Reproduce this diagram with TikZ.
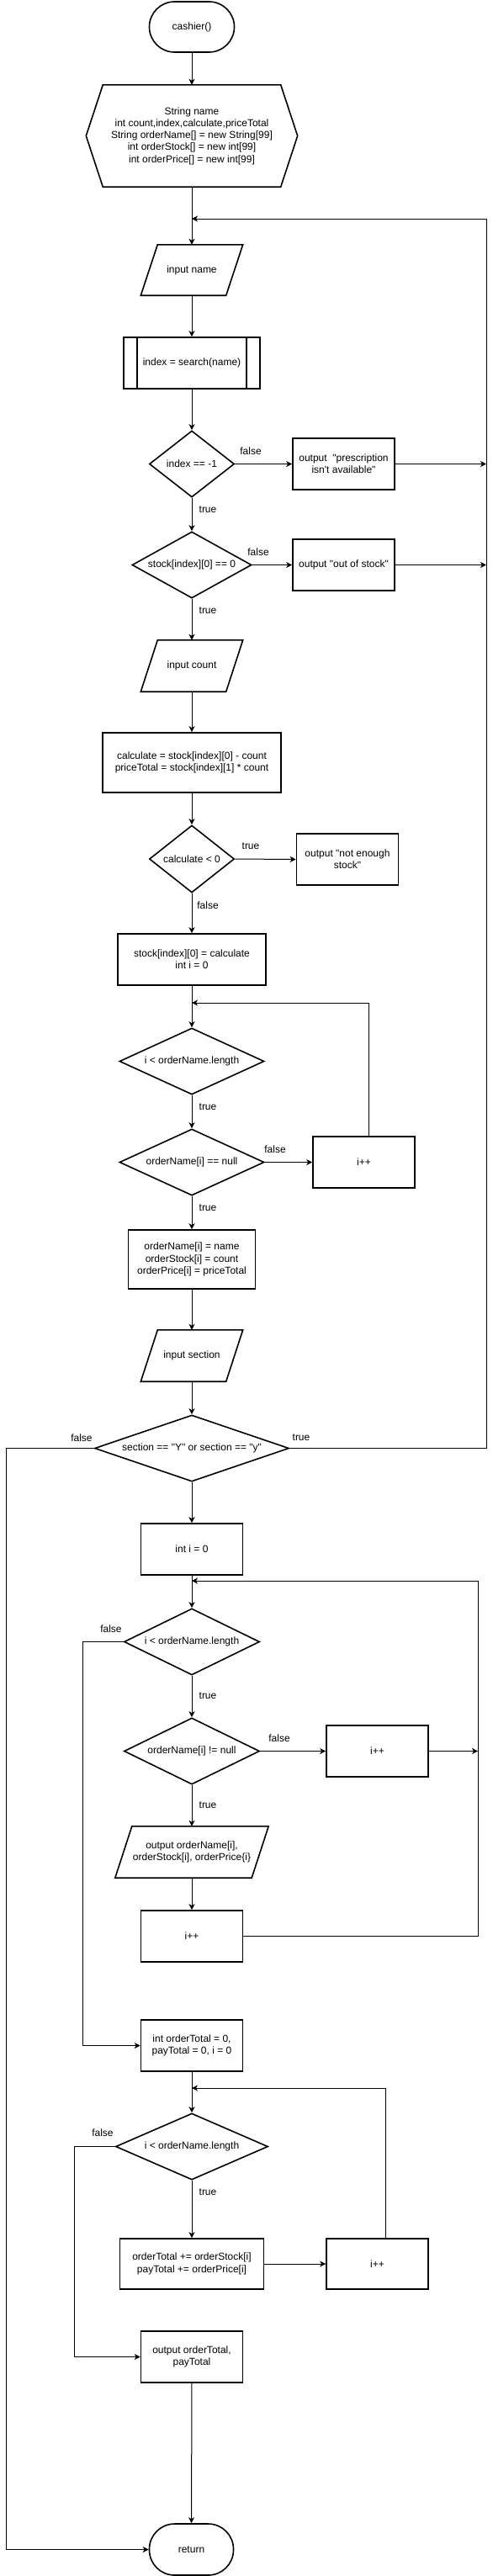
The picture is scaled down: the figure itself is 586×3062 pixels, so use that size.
\documentclass[tikz,border=0pt]{standalone}
\usepackage{fontspec}
\setmainfont{Liberation Sans}[Ligatures=TeXOff]
\usetikzlibrary{shapes.geometric,arrows.meta,calc}
\newcommand\dfont{\fontsize{12pt}{14.3pt}\selectfont}
\begin{document}
\begin{tikzpicture}[x=1pt,y=-1pt,
  shp/.style={draw=black, line width=1.6pt},
  box/.style={shp, rectangle, inner sep=0pt, align=center, font=\dfont},
  ghost/.style={rectangle, inner sep=0pt, align=center, font=\dfont},
  dia/.style={shp, diamond, inner sep=0pt},
  txt/.style={font=\dfont, align=center, inner sep=0pt},
  term/.style={shp, rectangle, rounded corners=30pt, inner sep=0pt, font=\dfont},
  conn/.style={draw=black, line width=1pt, -{Stealth[length=7pt,width=7pt,inset=2pt]}},
  lbl/.style={font=\dfont, inner sep=0pt}]
\useasboundingbox (0,0) rectangle (586,3062);

% ---------- nodes ----------
\node[term, minimum width=101pt, minimum height=60pt] (start) at (228,32) {cashier()};

\node[ghost, minimum width=251pt, minimum height=121pt] (decl) at (228,161.5)
  {String name\\int count,index,calculate,priceTotal\\String orderName[] = new String[99]\\int orderStock[] = new int[99]\\int orderPrice[] = new int[99]};
\draw[shp] ($(decl.north west)+(20,0)$) -- ($(decl.north east)+(-20,0)$) -- (decl.east)
  -- ($(decl.south east)+(-20,0)$) -- ($(decl.south west)+(20,0)$) -- (decl.west) -- cycle;

\coordinate (j1) at (228,260);
\coordinate (rtop) at (578,260);

\node[ghost, minimum width=121pt, minimum height=60pt] (in1) at (228,321) {input name};
\draw[shp] ($(in1.north west)+(20,0)$) -- (in1.north east) -- ($(in1.south east)+(-20,0)$) -- (in1.south west) -- cycle;

\node[box, minimum width=162pt, minimum height=61pt] (srch) at (228,431.5) {index = search(name)};
\draw[shp] ($(srch.north west)+(17,0)$) -- ($(srch.south west)+(17,0)$);
\draw[shp] ($(srch.north east)+(-17,0)$) -- ($(srch.south east)+(-17,0)$);

\node[dia, minimum width=101pt, minimum height=79pt] (d1) at (228,551.5) {};
\node[txt] (d1t) at (d1) {index == -1};
\node[box, minimum width=121pt, minimum height=61pt] (o1) at (408.5,551.5) {output~~"prescription\\isn't available"};
\coordinate (r1) at (578,551.5);

\node[dia, minimum width=142pt, minimum height=79pt] (d2) at (228,671.5) {};
\node[txt] (d2t) at (d2) {stock[index][0] == 0};
\node[box, minimum width=121pt, minimum height=61pt] (o2) at (408.5,671.5) {output "out of stock"};
\coordinate (r2a) at (578,671.5);

\node[ghost, minimum width=121pt, minimum height=61pt] (in2) at (228,791.5) {input count};
\draw[shp] ($(in2.north west)+(20,0)$) -- (in2.north east) -- ($(in2.south east)+(-20,0)$) -- (in2.south west) -- cycle;

\node[box, minimum width=212pt, minimum height=71pt] (calc) at (228,906.5) {calculate = stock[index][0] - count\\priceTotal = stock[index][1] * count};

\node[dia, minimum width=101pt, minimum height=80pt] (d3) at (228,1021) {};
\node[txt] (d3t) at (d3) {calculate < 0};
\node[box, minimum width=121pt, minimum height=61pt] (o3) at (413,1021.5) {output "not enough\\stock"};

\node[box, minimum width=176pt, minimum height=61pt] (stk) at (228,1140.5) {stock[index][0] = calculate\\int i = 0};
\coordinate (j2) at (228,1192);

\node[dia, minimum width=172pt, minimum height=79pt] (d4) at (228,1261.5) {};
\node[txt] (d4t) at (d4) {i < orderName.length};

\node[dia, minimum width=172pt, minimum height=79pt] (d5) at (228,1381.5) {};
\node[txt] (d5t) at (d5) {orderName[i] == null};
\node[box, minimum width=121pt, minimum height=61pt] (inc1) at (432.5,1381.5) {i++};

\node[box, minimum width=151pt, minimum height=70pt] (ord) at (228,1497) {orderName[i] = name\\orderStock[i] = count\\orderPrice[i] = priceTotal};

\node[ghost, minimum width=121pt, minimum height=61pt] (in3) at (228,1611.5) {input section};
\draw[shp] ($(in3.north west)+(20,0)$) -- (in3.north east) -- ($(in3.south east)+(-20,0)$) -- (in3.south west) -- cycle;

\node[dia, minimum width=231pt, minimum height=79pt] (d6) at (228,1721.5) {};
\node[txt] (d6t) at (d6) {section == "Y" or section == "y"};
\coordinate (lft) at (7.5,1721.5);
\coordinate (rt) at (578,1721.5);

\node[box, minimum width=121pt, minimum height=61pt] (init) at (228,1841.5) {int i = 0};
\coordinate (j3) at (228,1879);
\coordinate (r3) at (568,1879);

\node[dia, minimum width=161pt, minimum height=79pt] (d7) at (228,1951.5) {};
\node[txt] (d7t) at (d7) {i < orderName.length};
\coordinate (l7) at (98,1951.5);

\node[dia, minimum width=161pt, minimum height=79pt] (d8) at (228,2081.5) {};
\node[txt] (d8t) at (d8) {orderName[i] != null};
\node[box, minimum width=121pt, minimum height=61pt] (inc2) at (448.5,2081.5) {i++};
\coordinate (r2) at (568,2081.5);

\node[ghost, minimum width=182pt, minimum height=61pt] (outp) at (228,2201.5) {output orderName[i],\\orderStock[i], orderPrice\{i\}};
\draw[shp] ($(outp.north west)+(20,0)$) -- (outp.north east) -- ($(outp.south east)+(-20,0)$) -- (outp.south west) -- cycle;

\node[box, minimum width=121pt, minimum height=61pt] (inc3) at (228,2301.5) {i++};

\node[box, minimum width=121pt, minimum height=61pt] (tot) at (228,2431.5) {int orderTotal = 0,\\payTotal = 0, i = 0};
\coordinate (j4) at (228,2482);

\node[dia, minimum width=181pt, minimum height=79pt] (d9) at (228,2551.5) {};
\node[txt] (d9t) at (d9) {i < orderName.length};
\coordinate (l9) at (88,2551.5);

\node[box, minimum width=171pt, minimum height=60pt] (acc) at (228,2691) {orderTotal += orderStock[i]\\payTotal += orderPrice[i]};
\node[box, minimum width=121pt, minimum height=60pt] (inc4) at (448.5,2691) {i++};

\node[box, minimum width=121pt, minimum height=61pt] (outt) at (228,2801.5) {output orderTotal,\\payTotal};

\node[term, minimum width=100pt, minimum height=61pt] (ret) at (227.5,3030.5) {return};

% ---------- connectors ----------
\draw[conn] (start.south) -- (decl.north);
\draw[conn] (decl.south) -- (in1.north);
\draw[conn] (in1.south) -- (srch.north);
\draw[conn] (srch.south) -- (d1.north);
\draw[conn] (d1.east) -- (o1.west);
\draw[conn] (o1.east) -- (r1);
\draw[conn] (d1.south) -- (d2.north);
\draw[conn] (d2.east) -- (o2.west);
\draw[conn] (o2.east) -- (r2a);
\draw[conn] (d2.south) -- (in2.north);
\draw[conn] (in2.south) -- (calc.north);
\draw[conn] (calc.south) -- (d3.north);
\draw[conn] (d3.east) -- (o3.west);
\draw[conn] (d3.south) -- (stk.north);
\draw[conn] (stk.south) -- (d4.north);
\draw[conn] (d4.south) -- (d5.north);
\draw[conn] (d5.east) -- (inc1.west);
\draw[conn] ([xshift=6pt]inc1.north) |- (j2);
\draw[conn] (d5.south) -- (ord.north);
\draw[conn] (ord.south) -- (in3.north);
\draw[conn] (in3.south) -- (d6.north);
\draw[conn] (d6.west) -- (lft) |- (ret.west);
\draw[conn] (d6.east) -- (rt) -- (rtop) -- (j1);
\draw[conn] (d6.south) -- (init.north);
\draw[conn] (init.south) -- (d7.north);
\draw[conn] (d7.south) -- (d8.north);
\draw[conn] (d7.west) -- (l7) |- (tot.west);
\draw[conn] (d8.east) -- (inc2.west);
\draw[conn] (inc2.east) -- (r2);
\draw[conn] (d8.south) -- (outp.north);
\draw[conn] (outp.south) -- (inc3.north);
\draw[conn] (inc3.east) -| (r3) -- (j3);
\draw[conn] (tot.south) -- (d9.north);
\draw[conn] (d9.south) -- (acc.north);
\draw[conn] (d9.west) -- (l9) |- (outt.west);
\draw[conn] (acc.east) -- (inc4.west);
\draw[conn] ([xshift=10pt]inc4.north) |- (j4);
\draw[conn] (outt.south) -- (ret.north);

% ---------- labels ----------
\node[lbl] (t1f) at (298,536) {false};
\node[lbl] (t1t) at (247,606) {true};
\node[lbl] (t2f) at (307,656) {false};
\node[lbl] (t2t) at (247,726) {true};
\node[lbl] (t3t) at (298,1006) {true};
\node[lbl] (t3f) at (247,1076) {false};
\node[lbl] (t4t) at (247,1316) {true};
\node[lbl] (t5f) at (327,1366) {false};
\node[lbl] (t5t) at (247,1436) {true};
\node[lbl] (t6f) at (97,1709) {false};
\node[lbl] (t6t) at (358,1709) {true};
\node[lbl] (t7f) at (132,1936) {false};
\node[lbl] (t7t) at (247,2016) {true};
\node[lbl] (t8f) at (332,2066) {false};
\node[lbl] (t8t) at (247,2146) {true};
\node[lbl] (t9f) at (122,2535) {false};
\node[lbl] (t9t) at (247,2606) {true};
\end{tikzpicture}
\end{document}
